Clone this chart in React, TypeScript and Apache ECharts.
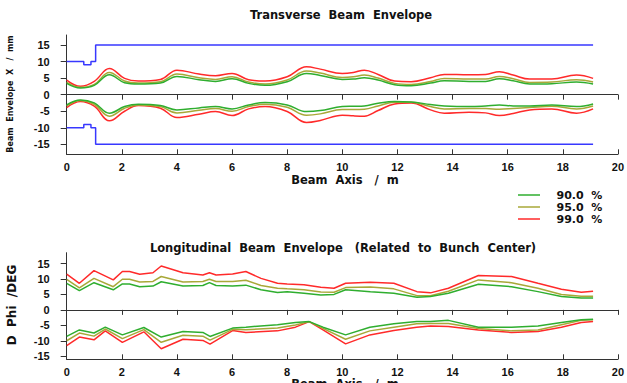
import React, { useEffect, useRef } from "react";
import * as echarts from "echarts";

// ---------- Transverse (top) ----------
const tXs = [0, 0.5, 1.0, 1.55, 2.1, 2.6, 3.4, 4.0, 4.8, 5.4, 6.0, 6.6, 7.2, 8.0, 8.7, 9.2, 10.0, 10.4, 10.8, 11.3, 11.9, 12.5, 13.2, 13.7, 14.6, 15.2, 15.7, 16.2, 16.8, 17.6, 18.5, 19.1];
const tUp99 = [4.4, 2.5, 4.0, 7.9, 4.9, 4.1, 4.6, 7.4, 6.2, 5.7, 6.4, 4.5, 4.1, 5.4, 8.4, 7.7, 6.4, 6.7, 7.4, 6.1, 4.1, 3.9, 5.1, 6.1, 6.0, 6.1, 6.9, 5.9, 4.7, 4.7, 5.9, 4.9];
const tUp95 = [3.7, 2.2, 3.1, 6.7, 4.1, 3.5, 3.9, 6.2, 5.1, 4.6, 5.4, 3.8, 3.2, 4.4, 7.1, 6.5, 5.2, 5.4, 5.9, 5.0, 3.4, 3.1, 4.0, 4.9, 4.7, 4.7, 5.5, 4.8, 3.7, 3.8, 4.5, 3.8];
const tUp90 = [3.4, 2.0, 2.8, 6.0, 3.6, 3.2, 3.5, 5.5, 4.5, 4.0, 4.8, 3.4, 2.8, 3.9, 6.4, 5.8, 4.6, 4.7, 5.1, 4.4, 3.0, 2.7, 3.5, 4.2, 4.0, 4.0, 4.8, 4.2, 3.2, 3.3, 3.8, 3.2];
const tLo99 = [-3.9, -2.1, -3.5, -7.9, -5.0, -3.3, -4.1, -6.9, -5.9, -5.1, -6.3, -4.3, -3.6, -5.1, -8.4, -7.8, -6.2, -6.4, -6.5, -4.8, -2.8, -2.5, -4.6, -5.6, -5.3, -5.5, -6.3, -5.7, -4.6, -4.3, -5.6, -4.3];
const tLo95 = [-3.4, -1.8, -2.9, -6.5, -4.1, -3.1, -3.6, -5.5, -4.7, -4.2, -5.0, -3.6, -2.9, -3.8, -6.2, -5.8, -4.5, -4.5, -4.4, -3.4, -2.3, -2.3, -3.6, -4.3, -4.2, -4.2, -4.4, -4.2, -3.9, -3.5, -4.3, -3.4];
const tLo90 = [-3.1, -1.6, -2.5, -5.6, -3.6, -2.9, -3.3, -4.6, -4.0, -3.6, -4.3, -3.1, -2.4, -3.1, -5.1, -4.8, -3.6, -3.5, -3.4, -2.6, -2.1, -2.2, -3.0, -3.4, -3.6, -3.4, -3.1, -3.4, -3.4, -3.1, -3.6, -2.8];
const apXs = [0, 0.62, 0.62, 0.88, 0.88, 1.05, 1.05, 19.1];
const apUp = [10, 10, 9, 9, 10, 10, 15, 15];
const apLo = [-10, -10, -9, -9, -10, -10, -15, -15];

// ---------- Longitudinal (bottom) ----------
const lUpXs = [0, 0.46, 0.99, 1.69, 2.02, 2.28, 2.65, 3.13, 3.43, 4.22, 4.94, 5.18, 5.42, 6.02, 6.5, 7.05, 7.65, 8.0, 8.61, 9.22, 9.7, 10.12, 11.02, 11.87, 12.71, 13.2, 13.85, 14.94, 16.14, 17.1, 17.95, 18.67, 19.1];
const lUp99 = [11.6, 8.6, 12.7, 9.7, 12.4, 12.4, 11.5, 12.0, 14.2, 12.0, 11.3, 12.0, 11.3, 11.6, 12.4, 10.2, 8.6, 8.4, 8.1, 7.3, 7.0, 8.6, 8.9, 8.6, 5.9, 5.5, 7.0, 11.1, 10.8, 8.6, 6.7, 5.7, 6.0];
const lUp95 = [9.9, 7.1, 10.2, 7.5, 9.9, 9.9, 9.0, 9.2, 10.8, 9.0, 9.2, 9.9, 9.2, 9.2, 9.6, 7.9, 7.0, 6.8, 6.5, 5.8, 5.7, 7.2, 7.4, 6.8, 4.6, 4.6, 6.0, 9.7, 8.8, 7.0, 5.0, 4.4, 4.4];
const lUp90 = [8.6, 6.2, 8.8, 6.5, 8.4, 8.4, 7.5, 7.7, 9.1, 7.7, 7.9, 8.8, 7.9, 7.7, 8.0, 6.5, 5.6, 5.9, 5.4, 4.8, 5.0, 6.5, 5.9, 5.4, 4.1, 4.3, 5.4, 8.3, 7.5, 5.9, 4.3, 3.8, 3.8];
const lLoXs = [0, 0.46, 0.99, 1.4, 2.02, 2.8, 3.43, 4.22, 4.94, 5.2, 6.02, 6.5, 7.65, 8.3, 8.8, 9.3, 10.12, 11.0, 11.87, 12.7, 13.2, 13.85, 14.94, 16.14, 17.1, 17.95, 18.67, 19.1];
const lLo99 = [-11.6, -8.8, -9.7, -6.8, -10.5, -7.1, -12.6, -9.5, -9.9, -11.1, -6.7, -7.3, -6.8, -5.6, -3.8, -6.5, -11.0, -8.1, -6.7, -5.6, -5.2, -5.4, -6.5, -7.3, -7.0, -5.6, -4.1, -3.8];
const lLo95 = [-10.0, -7.5, -8.5, -6.2, -9.3, -6.4, -10.5, -8.2, -8.5, -9.8, -6.3, -6.4, -5.9, -4.9, -3.8, -6.0, -9.5, -6.8, -5.6, -4.5, -4.4, -4.4, -6.0, -6.8, -6.5, -4.8, -3.4, -3.2];
const lLo90 = [-8.6, -6.5, -7.5, -5.6, -8.1, -5.7, -8.8, -7.0, -7.3, -8.6, -5.9, -5.6, -4.8, -4.1, -3.8, -5.6, -8.1, -5.6, -4.5, -3.8, -3.8, -3.4, -5.6, -5.6, -5.2, -4.1, -3.2, -3.0];

const levelNames = ["90.0 %", "95.0 %", "99.0 %"];
const levelColors = ["#2fae2f", "#a8a838", "#ff2a2a"];
const yTickValues = [-15, -10, -5, 0, 5, 10, 15];

const zip = (xs: number[], ys: number[]) => xs.map((x, i) => [x, ys[i]]);

const FONT = "DejaVu Sans";
const LFONT = "Liberation Sans";

function xAxesFor(grid: number) {
  const base = { type: "value", gridIndex: grid, min: 0, max: 20, interval: 2, splitLine: { show: false } };
  return [
    {
      ...base,
      position: "bottom",
      axisLine: { show: false, onZero: false },
      axisTick: { show: false },
      axisLabel: { margin: 7, color: "#111", fontFamily: LFONT, fontWeight: "bold", fontSize: 11 },
    },
    {
      ...base,
      position: "bottom",
      axisLine: { show: true, onZero: true, lineStyle: { color: "#333", width: 1 } },
      axisTick: { show: true, inside: false, length: 5, lineStyle: { color: "#333" } },
      axisLabel: { show: false },
    },
    {
      ...base,
      position: "bottom",
      axisLine: { show: true, onZero: true, lineStyle: { color: "#333", width: 1 } },
      axisTick: { show: true, inside: true, length: 5, lineStyle: { color: "#333" } },
      axisLabel: { show: false },
    },
  ];
}

function yAxisFor(grid: number, min: number, max: number) {
  return {
    type: "value",
    gridIndex: grid,
    min,
    max,
    splitLine: { show: false },
    axisLine: { show: true, onZero: false, lineStyle: { color: "#333", width: 1 } },
    axisTick: { show: true, length: 6, customValues: yTickValues, lineStyle: { color: "#333" } },
    axisLabel: { margin: 17, customValues: yTickValues, color: "#111", fontFamily: LFONT, fontWeight: "bold", fontSize: 11 },
  };
}

function lineSeries(name: string, color: string, data: number[][], xi: number, yi: number, smooth: number | boolean) {
  return {
    type: "line",
    name,
    xAxisIndex: xi,
    yAxisIndex: yi,
    data,
    symbol: "none",
    smooth,
    lineStyle: { color, width: 1.5 },
    itemStyle: { color },
    silent: true,
  };
}

export default function App() {
  const ref = useRef<HTMLDivElement>(null);
  useEffect(() => {
    if (!ref.current) return;
    const chart = echarts.init(ref.current, null, { renderer: "svg" });
    const topSets = [
      [tUp90, tLo90],
      [tUp95, tLo95],
      [tUp99, tLo99],
    ];
    const botSets = [
      [lUp90, lLo90],
      [lUp95, lLo95],
      [lUp99, lLo99],
    ];
    const series: any[] = [];
    const blue = "#3838ff";
    series.push(lineSeries("aperture", blue, zip(apXs, apUp), 0, 0, false));
    series.push(lineSeries("aperture", blue, zip(apXs, apLo), 0, 0, false));
    for (let k = 2; k >= 0; k--) {
      series.push(lineSeries(levelNames[k], levelColors[k], zip(tXs, topSets[k][0]), 0, 0, 0.4));
      series.push(lineSeries(levelNames[k], levelColors[k], zip(tXs, topSets[k][1]), 0, 0, 0.4));
      series.push(lineSeries(levelNames[k], levelColors[k], zip(lUpXs, botSets[k][0]), 3, 1, false));
      series.push(lineSeries(levelNames[k], levelColors[k], zip(lLoXs, botSets[k][1]), 3, 1, false));
    }
    const titleStyle = { fontFamily: FONT, fontWeight: "bold", fontSize: 11.5, fill: "#111" };
    chart.setOption({
      animation: false,
      backgroundColor: "#fff",
      grid: [
        { left: 66.7, right: 7, top: 35, height: 119.3 },
        { left: 66.7, right: 7, top: 252.7, height: 106.6 },
      ],
      xAxis: [...xAxesFor(0), ...xAxesFor(1)],
      yAxis: [yAxisFor(0, -18, 18), yAxisFor(1, -16, 18.5)],
      legend: {
        data: levelNames,
        orient: "vertical",
        left: 518,
        top: 189,
        padding: 0,
        icon: "rect",
        itemWidth: 22,
        itemHeight: 1.5,
        itemGap: 0,
        formatter: (n: string) => "   " + n.replace(" ", "  "),
        textStyle: { fontFamily: FONT, fontWeight: "bold", fontSize: 11, color: "#111", lineHeight: 12 },
        selectedMode: false,
      },
      graphic: [
        { type: "text", x: 341, y: 15, style: { ...titleStyle, text: "Transverse  Beam  Envelope", align: "center", verticalAlign: "middle" } },
        { type: "text", x: 345, y: 180, style: { ...titleStyle, text: "Beam  Axis   /  m", align: "center", verticalAlign: "middle" } },
        { type: "text", x: 343, y: 248, style: { ...titleStyle, text: "Longitudinal  Beam  Envelope   (Related  to  Bunch  Center)", align: "center", verticalAlign: "middle" } },
        { type: "text", x: 345, y: 378, style: { ...titleStyle, text: "Beam  Axis   /  m", align: "center", verticalAlign: "top" } },
        { type: "text", x: 10, y: 94, rotation: Math.PI / 2, style: { fontFamily: FONT, fontWeight: "bold", fontSize: 8, fill: "#111", text: "Beam  Envelope  X   /  mm", align: "center", verticalAlign: "middle" } },
        { type: "text", x: 12, y: 305, rotation: Math.PI / 2, style: { fontFamily: FONT, fontWeight: "bold", fontSize: 12, fill: "#111", text: "D  Phi  /DEG", align: "center", verticalAlign: "middle" } },
      ],
      series,
    });
    return () => chart.dispose();
  }, []);
  return <div ref={ref} style={{ width: 627, height: 383, position: "absolute", left: 0, top: 0 }} />;
}
